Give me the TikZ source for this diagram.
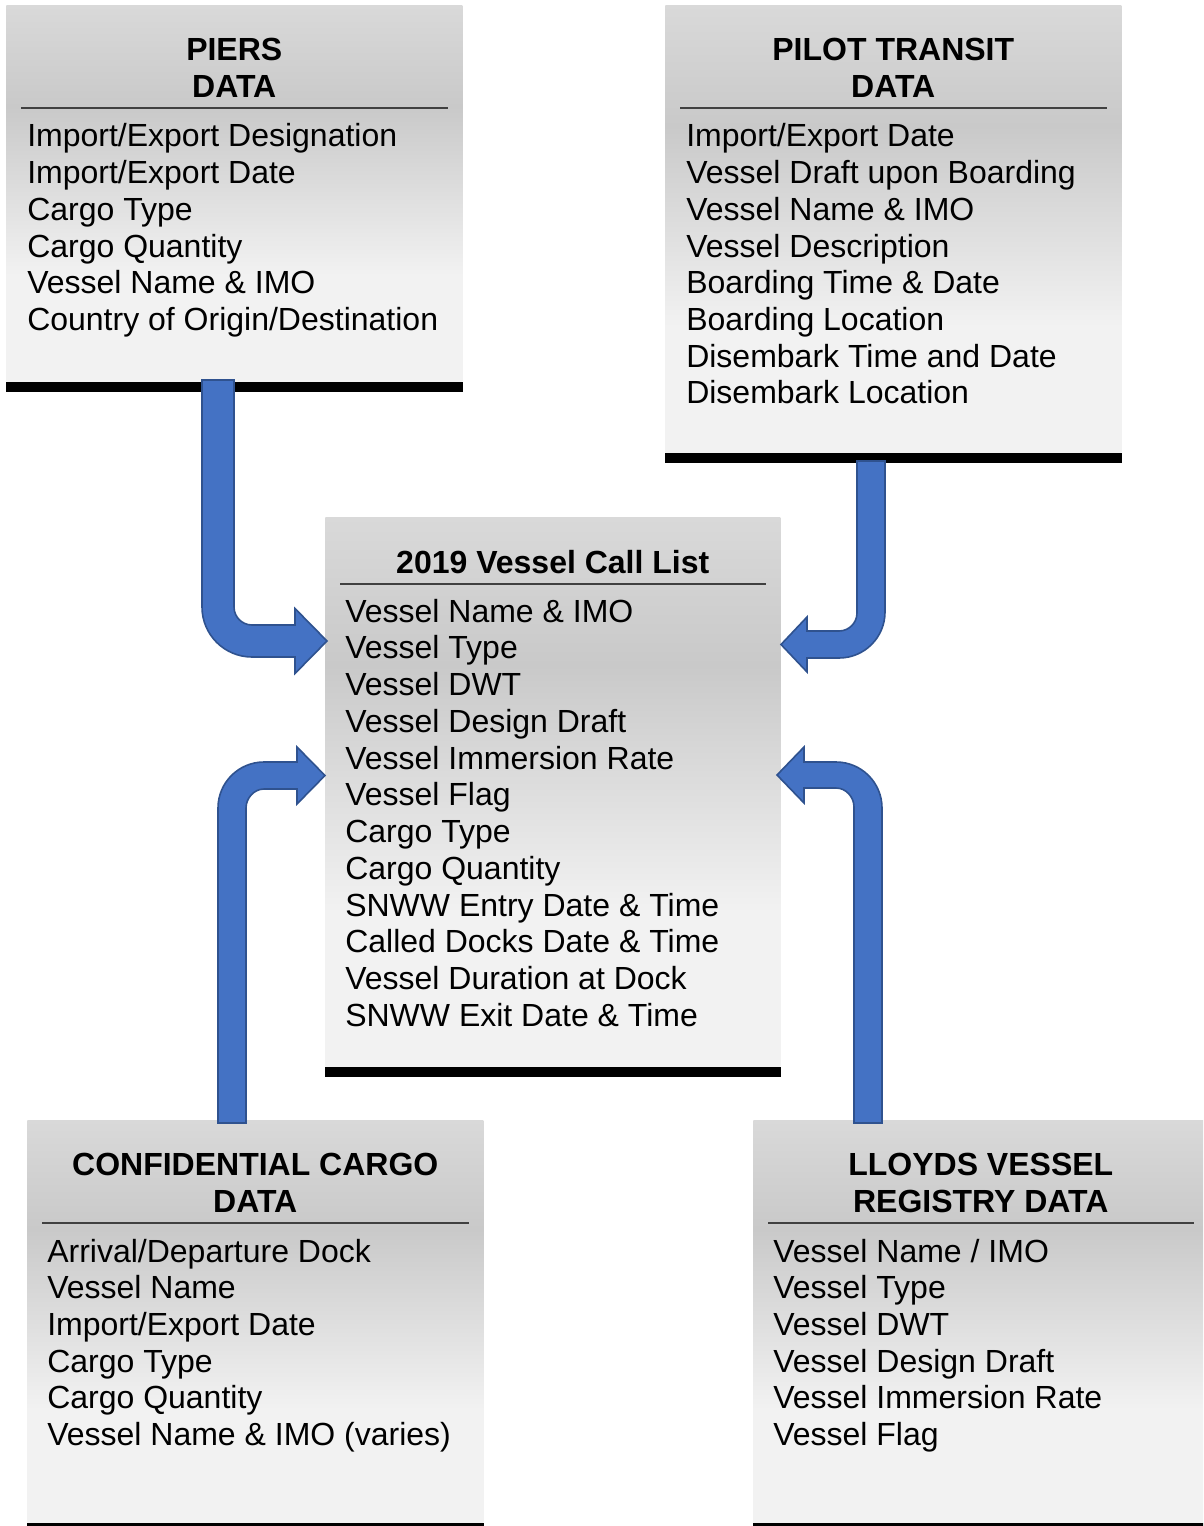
\documentclass[tikz,border=0pt]{standalone}
\usepackage{fontspec}
\setmainfont{Liberation Sans}
\usetikzlibrary{calc}
\definecolor{gT}{HTML}{D9D9D9}
\definecolor{gD}{HTML}{C9C9C9}
\definecolor{gL}{HTML}{F2F2F2}
\definecolor{arrFill}{HTML}{4472C4}
\definecolor{arrLine}{HTML}{2F528F}
\definecolor{ruleC}{HTML}{404040}
\pgfdeclareverticalshading{boxgrad}{100bp}{color(0bp)=(gL); color(39bp)=(gL); color(61.5bp)=(gD); color(75bp)=(gT); color(100bp)=(gT)}
\tikzset{
  databox/.style={shade, shading=boxgrad, draw=none, inner sep=0pt, anchor=north west},
  hrule/.style={draw=ruleC, line width=1.1pt},
  titletxt/.style={font=\fontsize{24}{27.6}\selectfont\bfseries, inner sep=0pt, anchor=base},
  itemtxt/.style={font=\fontsize{24}{27.6}\selectfont, inner sep=0pt, anchor=base west},
  bararrow/.style={fill=arrFill, draw=arrLine, line width=1.2pt, line join=miter},
}
\begin{document}
\begin{tikzpicture}[x=0.75pt,y=-0.75pt]
\useasboundingbox (0,0) rectangle (1203,1526);
\clip (0,0) rectangle (1203,1526);
\fill[white] (0,0) rectangle (1203,1526);

% ---------- boxes ----------
\node[databox, minimum width=342pt, minimum height=282pt] (piers) at (6,5) {};
\node[databox, minimum width=342pt, minimum height=335.25pt] (pilot) at (665,5) {};
\node[databox, minimum width=341.25pt, minimum height=411.75pt] (call) at (325,517) {};
\node[databox, minimum width=342pt, minimum height=301.5pt] (conf) at (27,1120) {};
\node[databox, minimum width=341.25pt, minimum height=301.5pt] (lloyds) at (753,1120) {};

% bottom bars
\foreach \b in {piers,pilot,call,conf,lloyds}
  \fill[black] (\b.south west) rectangle ([yshift=-7.5pt]\b.south east);

% header rules
\foreach \b in {piers,pilot,conf,lloyds}
  \draw[hrule] ($(\b.north west)+(15,103)$) -- ($(\b.north east)+(-15,103)$);
\draw[hrule] ($(call.north west)+(15,67)$) -- ($(call.north east)+(-15,67)$);

% ---------- titles ----------
\node[titletxt] (piersT1) at ($(piers.north)+(0,56)$) {PIERS};
\node[titletxt] (piersT2) at ($(piers.north)+(0,93)$) {DATA};
\node[titletxt] (pilotT1) at ($(pilot.north)+(0,56)$) {PILOT TRANSIT};
\node[titletxt] (pilotT2) at ($(pilot.north)+(0,93)$) {DATA};
\node[titletxt] (callT1) at ($(call.north)+(0,56)$) {2019 Vessel Call List};
\node[titletxt] (confT1) at ($(conf.north)+(0,55)$) {CONFIDENTIAL CARGO};
\node[titletxt] (confT2) at ($(conf.north)+(0,92)$) {DATA};
\node[titletxt] (lloydsT1) at ($(lloyds.north)+(0,55)$) {LLOYDS VESSEL};
\node[titletxt] (lloydsT2) at ($(lloyds.north)+(0,92)$) {REGISTRY DATA};

% ---------- items ----------
\foreach \t [count=\i from 0] in {Import/Export Designation, Import/Export Date, Cargo Type, Cargo Quantity, Vessel Name \& IMO, Country of Origin/Destination}
  \node[itemtxt] (piersI\i) at ($(piers.north west)+(21,{142+36.7*\i})$) {\t};

\foreach \t [count=\i from 0] in {Import/Export Date, Vessel Draft upon Boarding, Vessel Name \& IMO, Vessel Description, Boarding Time \& Date, Boarding Location, Disembark Time and Date, Disembark Location}
  \node[itemtxt] (pilotI\i) at ($(pilot.north west)+(21,{142+36.7*\i})$) {\t};

\foreach \t [count=\i from 0] in {Vessel Name \& IMO, Vessel Type, Vessel DWT, Vessel Design Draft, Vessel Immersion Rate, Vessel Flag, Cargo Type, Cargo Quantity, SNWW Entry Date \& Time, Called Docks Date \& Time, Vessel Duration at Dock, SNWW Exit Date \& Time}
  \node[itemtxt] (callI\i) at ($(call.north west)+(20,{105+36.75*\i})$) {\t};

\foreach \t [count=\i from 0] in {Arrival/Departure Dock, Vessel Name, Import/Export Date, Cargo Type, Cargo Quantity, Vessel Name \& IMO (varies)}
  \node[itemtxt] (confI\i) at ($(conf.north west)+(20,{142+36.7*\i})$) {\t};

\foreach \t [count=\i from 0] in {Vessel Name / IMO, Vessel Type, Vessel DWT, Vessel Design Draft, Vessel Immersion Rate, Vessel Flag}
  \node[itemtxt] (lloydsI\i) at ($(lloyds.north west)+(20,{142+36.7*\i})$) {\t};

% ---------- bent arrows ----------
% PIERS -> call list
\draw[bararrow] (202,380) -- (202,607) .. controls (202,634.6) and (224.4,657) .. (252,657)
  -- (295,657) -- (295,673.5) -- (327,641) -- (295,608.5) -- (295,625) -- (252,625)
  .. controls (242.1,625) and (234,616.9) .. (234,607) -- (234,380) -- cycle;
% PILOT -> call list
\draw[bararrow] (885,461) -- (885,612) .. controls (885,637.4) and (864.4,658) .. (839,658)
  -- (807,658) -- (807,672) -- (781,644.5) -- (807,617) -- (807,631) -- (839,631)
  .. controls (848.9,631) and (857,622.9) .. (857,613) -- (857,461) -- cycle;
% CONFIDENTIAL -> call list
\draw[bararrow] (218,1123) -- (218,808) .. controls (218,782.6) and (238.6,762) .. (264,762)
  -- (297,762) -- (297,747) -- (325,775.5) -- (297,804) -- (297,789) -- (264,789)
  .. controls (254.1,789) and (246,798.1) .. (246,808) -- (246,1123) -- cycle;
% LLOYDS -> call list
\draw[bararrow] (882,1123) -- (882,808) .. controls (882,782.6) and (861.4,762) .. (836,762)
  -- (804,762) -- (804,747) -- (777,775) -- (804,803) -- (804,788) -- (836,788)
  .. controls (845.9,788) and (854,797) .. (854,807) -- (854,1123) -- cycle;
\end{tikzpicture}
\end{document}
